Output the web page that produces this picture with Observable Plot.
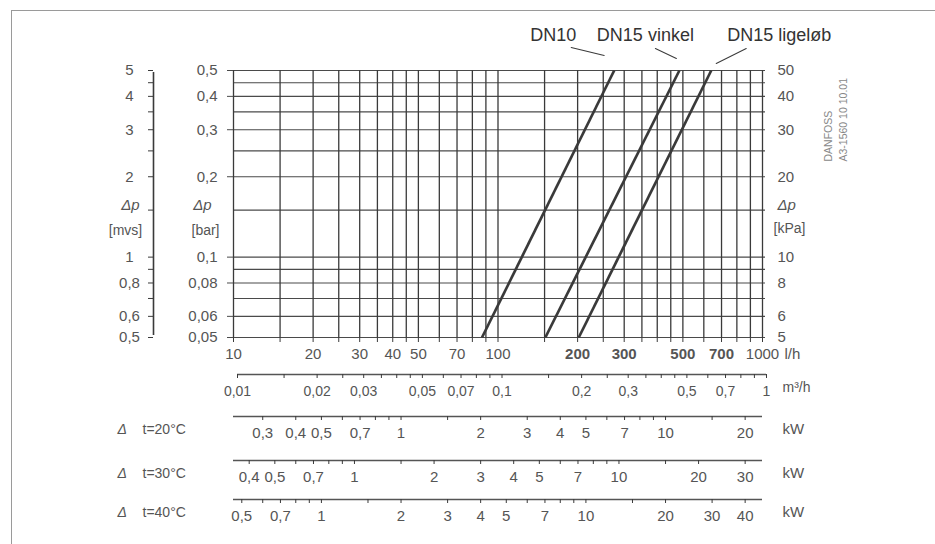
<!DOCTYPE html>
<html>
<head>
<meta charset="utf-8">
<script src="https://cdn.jsdelivr.net/npm/d3@7"></script>
<script src="https://cdn.jsdelivr.net/npm/@observablehq/plot@0.6"></script>
<style>
html, body { margin: 0; padding: 0; background: #fff; }
#wrap { position: relative; width: 935px; height: 544px; overflow: hidden; }
#wrap svg { position: absolute; left: 0; }
.border { position: absolute; left: 11px; top: 10px; width: 940px; height: 560px; border-top: 1.5px solid #9a9a9a; border-left: 1.5px solid #9a9a9a; }
</style>
</head>
<body>
<div id="wrap"><div class="border"></div></div>
<script>
// ---------------- data ----------------
const flowGrid = [10,15,20,25,30,35,40,45,50,60,70,80,90,100,150,200,250,300,350,400,450,500,600,700,800,900,1000];
const flowLabelsNormal = [10,20,30,40,50,70,100,1000];
const flowLabelsBold = [200,300,500,700];
const dpGrid = [0.05,0.06,0.07,0.08,0.09,0.1,0.15,0.2,0.25,0.3,0.35,0.4,0.45,0.5];
const dpLabels = [0.05,0.06,0.08,0.1,0.2,0.3,0.4,0.5];
const mvsLabels = [0.5,0.6,0.8,1,2,3,4,5];
const kpaLabels = [5,6,8,10,20,30,40,50];
const m3Ticks = [0.01,0.015,0.02,0.025,0.03,0.035,0.04,0.045,0.05,0.06,0.07,0.08,0.09,0.1,0.15,0.2,0.25,0.3,0.35,0.4,0.45,0.5,0.6,0.7,0.8,0.9,1];
const m3Labels = [0.01,0.02,0.03,0.05,0.07,0.1,0.2,0.3,0.5,0.7,1];
const kw20Ticks = [0.3,0.4,0.5,0.6,0.7,0.8,0.9,1,1.5,2,3,4,5,6,7,8,9,10,15,20];
const kw20Labels = [0.3,0.4,0.5,0.7,1,2,3,4,5,7,10,20];
const kw30Ticks = [0.4,0.5,0.6,0.7,0.8,0.9,1,1.5,2,3,4,5,6,7,8,9,10,15,20,30];
const kw30Labels = [0.4,0.5,0.7,1,2,3,4,5,7,10,20,30];
const kw40Ticks = [0.5,0.6,0.7,0.8,0.9,1,1.5,2,3,4,5,6,7,8,9,10,15,20,30,40];
const kw40Labels = [0.5,0.7,1,2,3,4,5,7,10,20,30,40];
const seriesNames = ["DN10", "DN15 vinkel", "DN15 ligeløb"];
// [flow l/h, Δp bar]
const dn10 = [[87, 0.05], [275, 0.5]];
const dn15vinkel = [[151, 0.05], [485, 0.5]];
const dn15ligelob = [[202, 0.05], [640, 0.5]];
const deltaT = [20, 30, 40];

// ---------------- helpers ----------------
const FONT = '"Liberation Sans", Arial, Helvetica, sans-serif';
const INK = "#3a3a3a", GRID = "#4a4a4a", TXT = "#555";
const fmt = d => String(d).replace(".", ",");
const baseStyle = {fontFamily: FONT, background: "transparent", overflow: "visible", color: TXT};

const curves = [dn10, dn15vinkel, dn15ligelob].map((pts, i) => ({series: seriesNames[i], pts}));
const curveData = curves.flatMap(c => c.pts.map(([flow, dp]) => ({series: c.series, flow, dp})));
const tops = curves.map(c => { const p = c.pts[c.pts.length - 1]; return {series: c.series, flow: p[0], dp: p[1]}; });

// label styling (pixel offsets relative to each curve's top end)
const labelStyle = {
  "DN10":         {dx: -61, lead: [[-43, -23], [-10, -15]]},
  "DN15 vinkel":  {dx: -34, lead: [[-24, -22], [-3, -12]]},
  "DN15 ligeløb": {dx: 68,  lead: [[35, -22], [5, -7]]}
};
const segShape = {draw(ctx, l) { ctx.moveTo(0, 0); ctx.lineTo(0, -l); }};

const wrap = document.getElementById("wrap");
function place(svg, top) { svg.style.top = top + "px"; wrap.appendChild(svg); }

// ---------------- main chart ----------------
const marks = [
  Plot.ruleY(dpGrid, {x1: 10, x2: 1000, insetRight: -3, stroke: GRID, strokeWidth: 1.1}),
  Plot.ruleX(flowGrid, {y1: 0.05, y2: 0.5, stroke: INK, strokeWidth: 1.3}),
  Plot.axisX(flowGrid, {anchor: "bottom", tickSize: 5, tickFormat: () => "", color: INK, label: null}),
  Plot.text(flowLabelsNormal, {x: d => d, y: 0.05, text: d => String(d), dy: 17, fontSize: 15, fill: TXT}),
  Plot.text(flowLabelsBold, {x: d => d, y: 0.05, text: d => String(d), dy: 17, fontSize: 15, fontWeight: "bold", fill: TXT}),
  Plot.text(["l/h"], {x: 1000, y: 0.05, text: d => d, dx: 22, dy: 17, textAnchor: "start", fontSize: 15, fill: TXT}),
  // bar axis
  Plot.axisY(dpLabels, {anchor: "left", tickSize: 6, tickFormat: () => "", color: GRID, label: null}),
  Plot.text(dpLabels, {x: 10, y: d => d, text: fmt, dx: -16, textAnchor: "end", fontSize: 15, fill: TXT}),
  Plot.text(["Δp"], {x: 10, y: 0.15, text: d => d, dx: -31, dy: -5, fontSize: 15, fontStyle: "italic", fill: TXT}),
  Plot.text(["[bar]"], {x: 10, y: 0.15, text: d => d, dx: -28, dy: 20, fontSize: 14, fill: TXT}),
  // kPa axis
  Plot.text(kpaLabels, {x: 1000, y: d => d / 100, text: fmt, dx: 15, textAnchor: "start", fontSize: 15, fill: TXT}),
  Plot.text(["Δp"], {x: 1000, y: 0.15, text: d => d, dx: 15, dy: -5, textAnchor: "start", fontSize: 15, fontStyle: "italic", fill: TXT}),
  Plot.text(["[kPa]"], {x: 1000, y: 0.15, text: d => d, dx: 11, dy: 18, textAnchor: "start", fontSize: 14, fill: TXT}),
  // mvs axis
  Plot.ruleX([10], {y1: 0.05, y2: 0.5, dx: -80, insetTop: -2, insetBottom: -2, stroke: INK, strokeWidth: 1.6}),
  Plot.axisY(dpGrid, {anchor: "left", dx: -80, tickSize: 5, tickFormat: () => "", color: INK, label: null}),
  Plot.text(mvsLabels, {x: 10, y: d => d / 10, text: fmt, dx: -104, fontSize: 15, fill: TXT}),
  Plot.text(["Δp"], {x: 10, y: 0.15, text: d => d, dx: -103, dy: -5, fontSize: 15, fontStyle: "italic", fill: TXT}),
  Plot.text(["[mvs]"], {x: 10, y: 0.15, text: d => d, dx: -108, dy: 20, fontSize: 14, fill: TXT}),
  // curves
  Plot.line(curveData, {x: "flow", y: "dp", z: "series", stroke: INK, strokeWidth: 2.7, strokeLinecap: "butt"}),
  // DANFOSS stamp
  Plot.text(["DANFOSS"], {x: 1000, y: 0.5, text: d => d, dx: 66, dy: 91, rotate: -90, textAnchor: "start", fontSize: 10.5, fill: "#888"}),
  Plot.text(["A3-1560 10 10.01"], {x: 1000, y: 0.5, text: d => d, dx: 81, dy: 91, rotate: -90, textAnchor: "start", fontSize: 10.5, fill: "#888"})
];
for (const t of tops) {
  const st = labelStyle[t.series];
  const [[sx, sy], [ex, ey]] = st.lead;
  const len = Math.hypot(ex - sx, ey - sy);
  const ang = Math.atan2(ex - sx, -(ey - sy)) * 180 / Math.PI;
  marks.push(Plot.text([t], {x: "flow", y: "dp", text: "series", dx: st.dx, dy: -35, fontSize: 18, fill: "#333"}));
  marks.push(Plot.vector([t], {x: "flow", y: "dp", dx: sx, dy: sy, anchor: "start", length: len, rotate: ang, shape: segShape, stroke: INK, strokeWidth: 1}));
}

const main = Plot.plot({
  width: 935, height: 372,
  marginLeft: 233, marginRight: 173, marginTop: 70, marginBottom: 35,
  x: {type: "log", domain: [10, 1000], label: null},
  y: {type: "log", domain: [0.05, 0.5], label: null},
  style: baseStyle,
  marks
});
place(main, 0);

// ---------------- bottom scales ----------------
function scaleRow({top, lineAt, height, domain, ticks, labels, mL, mR, unit, unitDx, fontSize, extra = []}) {
  const svg = Plot.plot({
    width: 935, height,
    marginLeft: mL, marginRight: mR, marginTop: 2, marginBottom: height - (lineAt - top),
    x: {type: "log", domain, label: null},
    y: {domain: [0, 1], axis: null},
    style: baseStyle,
    marks: [
      Plot.ruleY([0], {x1: domain[0], x2: domain[1], stroke: "#555", strokeWidth: 1.6}),
      Plot.axisX(ticks, {anchor: "bottom", tickSize: 4, tickFormat: () => "", color: INK, label: null}),
      Plot.text(labels, {x: d => d, y: 0, text: fmt, dy: 17, fontSize, fill: TXT}),
      Plot.text([unit], {frameAnchor: "bottom-right", text: d => d, dx: unitDx, dy: 17, textAnchor: "start", fontSize, fill: TXT}),
      ...extra
    ]
  });
  place(svg, top);
}

scaleRow({top: 362, lineAt: 374, height: 44, domain: [0.01, 1], ticks: m3Ticks, labels: m3Labels, mL: 237, mR: 169, unit: "m³/h", unitDx: 16, fontSize: 14});

const kwTicks = [kw20Ticks, kw30Ticks, kw40Ticks];
const kwLabels = [kw20Labels, kw30Labels, kw40Labels];
const lines = [416, 460, 499];
deltaT.forEach((dt, i) => {
  const k = 1.163 * dt / 1000; // kW per l/h
  scaleRow({
    top: lines[i] - 12, lineAt: lines[i], height: 42,
    domain: [10 * k, 1000 * k], ticks: kwTicks[i], labels: kwLabels[i],
    mL: 233, mR: 173, unit: "kW", unitDx: 20, fontSize: 15,
    extra: [
      Plot.text(["Δ"], {frameAnchor: "bottom-left", text: d => d, dx: -116, dy: 17, textAnchor: "start", fontSize: 14, fontStyle: "italic", fill: TXT}),
      Plot.text([`t=${dt}°C`], {frameAnchor: "bottom-left", text: d => d, dx: -91, dy: 17, textAnchor: "start", fontSize: 14, fill: TXT})
    ]
  });
});
</script>
</body>
</html>
